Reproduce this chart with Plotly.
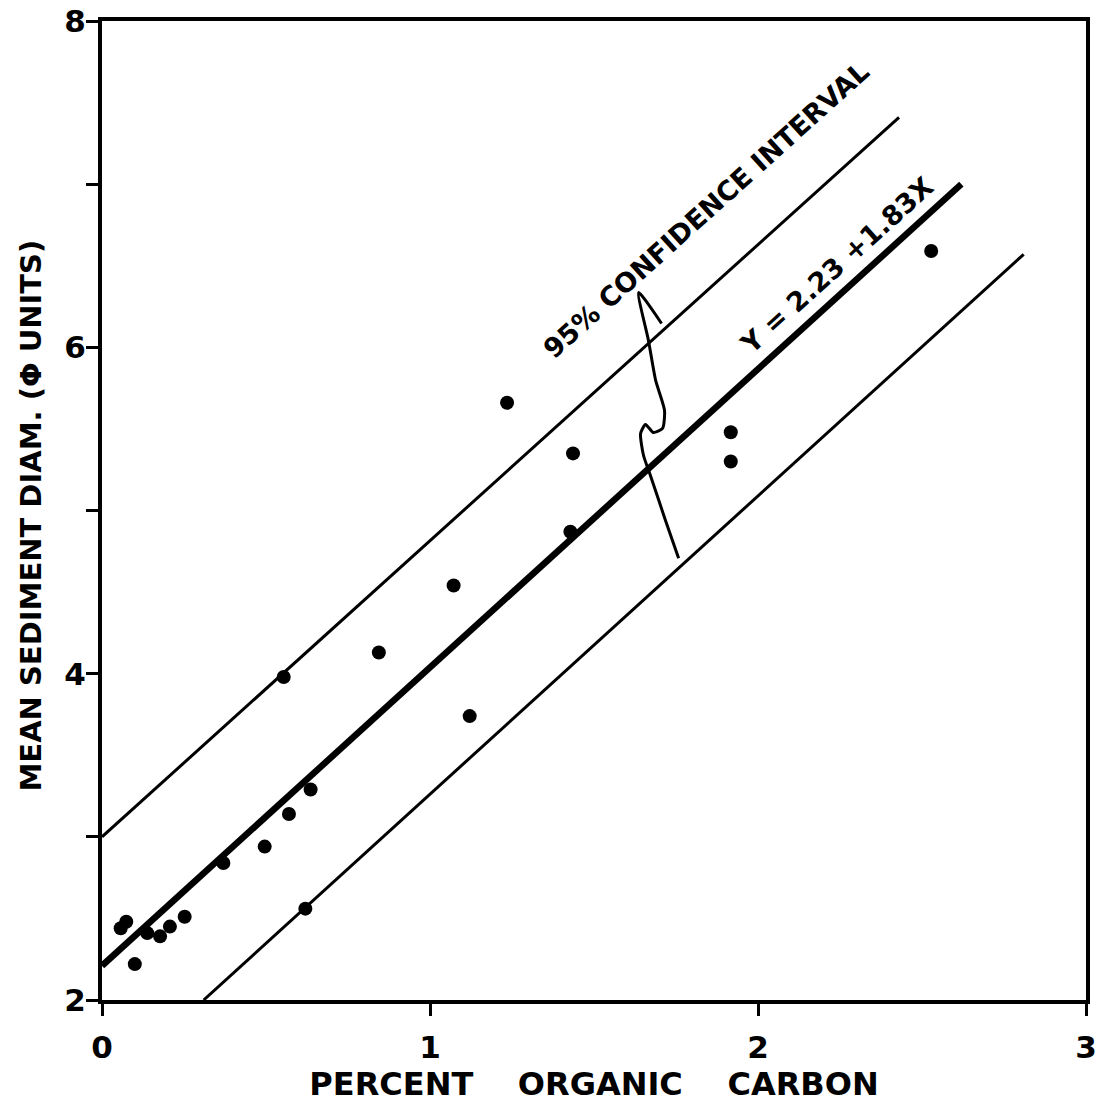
import plotly.graph_objects as go

# Observed data points
carbon = [0.057, 0.074, 0.10, 0.138, 0.177, 0.207, 0.252, 0.37, 0.496, 0.570,
          0.554, 0.636, 0.62, 0.844, 1.072, 1.121, 1.235, 1.428, 1.436, 1.917,
          1.917, 2.528]
diam = [2.44, 2.48, 2.22, 2.41, 2.39, 2.45, 2.51, 2.84, 2.94, 3.14,
        3.98, 3.29, 2.56, 4.13, 4.54, 3.74, 5.66, 4.87, 5.35, 5.48,
        5.30, 6.59]

# Regression line and 95% confidence band (end points)
reg_x = [0.0, 2.62]
reg_y = [2.21, 7.0]
upper_x = [0.0, 2.43]
upper_y = [3.0, 7.41]
lower_x = [0.31, 2.81]
lower_y = [2.0, 6.57]

# Squiggle pointer from the confidence-interval label
sq_x = [1.706, 1.636, 1.666, 1.688, 1.715, 1.709, 1.681, 1.657, 1.642, 1.651, 1.672, 1.718, 1.758]
sq_y = [6.146, 6.336, 6.042, 5.797, 5.613, 5.503, 5.478, 5.527, 5.472, 5.337, 5.215, 4.939, 4.707]

x_ticks = [0, 1, 2, 3]
x_ticktext = ["0", "1", "2", "3"]
y_ticks = [2, 3, 4, 5, 6, 7, 8]
y_ticktext = ["2", "", "4", "", "6", "", "8"]

FONT = "DejaVu Sans"

fig = go.Figure()
fig.add_trace(go.Scatter(x=upper_x, y=upper_y, mode="lines",
                         line=dict(color="black", width=3), hoverinfo="skip"))
fig.add_trace(go.Scatter(x=lower_x, y=lower_y, mode="lines",
                         line=dict(color="black", width=3), hoverinfo="skip"))
fig.add_trace(go.Scatter(x=reg_x, y=reg_y, mode="lines",
                         line=dict(color="black", width=6.5), hoverinfo="skip"))
fig.add_trace(go.Scatter(x=sq_x, y=sq_y, mode="lines",
                         line=dict(color="black", width=3, shape="spline", smoothing=0.6),
                         hoverinfo="skip"))
fig.add_trace(go.Scatter(x=carbon, y=diam, mode="markers",
                         marker=dict(color="black", size=14)))

fig.add_annotation(x=1.84, y=6.84, xref="x", yref="y", text="<b>95% CONFIDENCE INTERVAL</b>",
                   showarrow=False, textangle=-42, font=dict(family=FONT, size=27, color="black"))
fig.add_annotation(x=2.24, y=6.50, xref="x", yref="y", text="<b>Y = 2.23 +1.83X</b>",
                   showarrow=False, textangle=-42, font=dict(family=FONT, size=27, color="black"))
# y-axis title placed as a rotated annotation for exact positioning
fig.add_annotation(x=0, y=0.5, xref="paper", yref="paper", xanchor="center", yanchor="middle",
                   xshift=-72, yshift=-5, text="<b>MEAN SEDIMENT DIAM. (Φ UNITS)</b>",
                   showarrow=False, textangle=-90, font=dict(family=FONT, size=29, color="black"))

fig.update_layout(
    width=1098, height=1113,
    margin=dict(l=102, r=12, t=21, b=113),
    paper_bgcolor="white", plot_bgcolor="white",
    showlegend=False,
    font=dict(family=FONT, color="black"),
)
fig.update_xaxes(range=[0, 3], tickvals=x_ticks, ticktext=["<b>%s</b>" % t for t in x_ticktext],
                 ticks="outside", ticklen=12, tickwidth=3, automargin=False, ticklabelstandoff=5,
                 ticklabeloverflow="allow",
                 tickcolor="black", showline=True, linewidth=4, linecolor="black", mirror=True,
                 showgrid=False, zeroline=False,
                 tickfont=dict(family=FONT, size=31, color="black"),
                 title=dict(text="<b>PERCENT    ORGANIC    CARBON</b>", standoff=4,
                            font=dict(family=FONT, size=32, color="black")))
fig.update_yaxes(range=[2, 8], tickvals=y_ticks,
                 ticktext=["<b>%s</b>" % t if t else "" for t in y_ticktext],
                 ticks="outside", ticklen=12, automargin=False, ticklabelstandoff=-6,
                 ticklabeloverflow="allow",
                 tickwidth=3, tickcolor="black", showline=True, linewidth=4, linecolor="black",
                 mirror=True, showgrid=False, zeroline=False,
                 tickfont=dict(family=FONT, size=31, color="black"))

# Remove the browser's default 8px body margin so the figure fills the window exactly.
fig.write_html("out.html", config={"displayModeBar": False},
               post_script="document.body.style.margin='0px';")
